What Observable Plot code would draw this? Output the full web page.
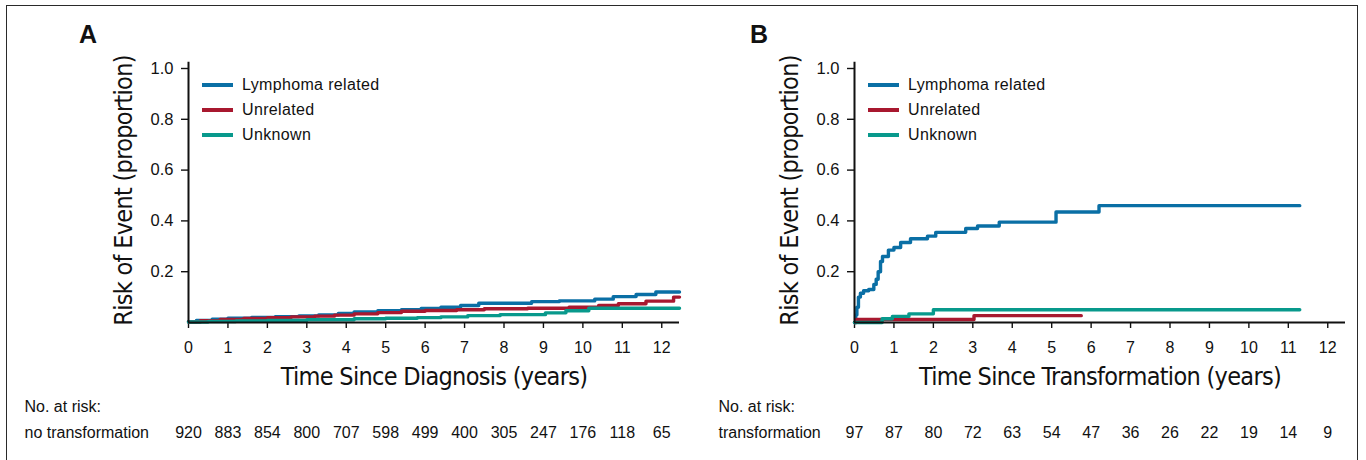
<!DOCTYPE html>
<html>
<head>
<meta charset="utf-8">
<script src="https://cdn.jsdelivr.net/npm/d3@7"></script>
<script src="https://cdn.jsdelivr.net/npm/@observablehq/plot@0.6"></script>
<style>
  html, body { margin: 0; padding: 0; background: #fff; overflow: hidden; }
  #fig { position: relative; width: 1366px; height: 460px; overflow: hidden; font-family: 'Liberation Sans', Arial, sans-serif; color: #111; }
  .box { position: absolute; left: 6px; top: 5px; width: 1352px; height: 480px; box-sizing: border-box; border: 1.6px solid #2a2a2a; }
  .panel { position: absolute; top: 0; }
  .letter { position: absolute; font-weight: bold; font-size: 25px; line-height: 25px; }
  .leg { position: absolute; height: 20px; display: flex; align-items: center; font-size: 16px; letter-spacing: 0.35px; }
  .leg span.sw { display: inline-block; width: 31px; height: 4px; margin-right: 9px; }
  .axis-title { letter-spacing: -0.7px; }
</style>
</head>
<body>
<div id="fig">
  <div class="box"></div>
  <div class="panel" id="panelA" style="left:0"></div>
  <div class="panel" id="panelB" style="left:683px"></div>
  <div class="letter" style="left:79px;top:22px">A</div>
  <div class="letter" style="left:750px;top:22px">B</div>
  <div id="legA"></div>
  <div id="legB"></div>
</div>
<script>
// Event categories and their colours
const seriesNames = ["Lymphoma related", "Unrelated", "Unknown"];
const seriesColors = ["#0a6fa5", "#a8182f", "#08998c"];

// Panel A: cumulative risk since diagnosis (step points: years, proportion)
const aLymphT = [0, 0.2, 0.6, 1.0, 1.6, 2.2, 2.8, 3.3, 3.8, 4.2, 4.8, 5.4, 5.9, 6.4, 6.9, 7.36, 8.7, 9.4, 10.3, 10.77, 11.35, 11.85, 12.45];
const aLymphV = [0.003, 0.008, 0.013, 0.017, 0.02, 0.023, 0.026, 0.03, 0.036, 0.042, 0.046, 0.05, 0.055, 0.06, 0.067, 0.076, 0.082, 0.085, 0.092, 0.102, 0.11, 0.12, 0.12];
const aUnrelT = [0, 0.3, 0.8, 1.4, 2.0, 2.6, 3.2, 3.7, 4.2, 4.8, 5.4, 6.0, 6.8, 7.5, 8.6, 9.65, 10.4, 10.9, 11.6, 12.3, 12.45];
const aUnrelV = [0.002, 0.007, 0.012, 0.016, 0.019, 0.022, 0.025, 0.029, 0.034, 0.039, 0.044, 0.047, 0.05, 0.054, 0.056, 0.06, 0.067, 0.074, 0.084, 0.1, 0.1];
const aUnknT = [0, 0.5, 1.2, 2.0, 3.0, 4.2, 5.0, 5.8, 6.4, 7.08, 7.9, 9.05, 9.57, 10.15, 12.45];
const aUnknV = [0.002, 0.004, 0.006, 0.008, 0.011, 0.015, 0.017, 0.019, 0.022, 0.027, 0.031, 0.038, 0.046, 0.056, 0.056];

// Panel B: cumulative risk since transformation
const bLymphT = [0, 0.03, 0.06, 0.1, 0.15, 0.23, 0.36, 0.49, 0.55, 0.6, 0.66, 0.71, 0.86, 1.0, 1.17, 1.42, 1.85, 2.06, 2.82, 3.12, 3.67, 5.11, 6.2, 11.29];
const bLymphV = [0, 0.03, 0.06, 0.1, 0.115, 0.125, 0.13, 0.15, 0.17, 0.2, 0.24, 0.26, 0.285, 0.295, 0.315, 0.33, 0.34, 0.355, 0.37, 0.38, 0.395, 0.435, 0.46, 0.46];
const bUnrelT = [0, 0.05, 3.03, 5.75];
const bUnrelV = [0, 0.012, 0.027, 0.027];
const bUnknT = [0, 0.7, 0.96, 1.38, 2.0, 11.29];
const bUnknV = [0, 0.015, 0.024, 0.034, 0.05, 0.05];

// Numbers at risk at each whole year
const riskYears = [0, 1, 2, 3, 4, 5, 6, 7, 8, 9, 10, 11, 12];
const riskA = [920, 883, 854, 800, 707, 598, 499, 400, 305, 247, 176, 118, 65];
const riskB = [97, 87, 80, 72, 63, 54, 47, 36, 26, 22, 19, 14, 9];

// Axis ticks
const xTicks = [0, 1, 2, 3, 4, 5, 6, 7, 8, 9, 10, 11, 12];
const yTicks = [0.2, 0.4, 0.6, 0.8, 1.0];

const yTitle = "Risk of Event (proportion)";

function rows(ts, vs, name) {
  return ts.map((t, i) => ({t, v: vs[i], series: name}));
}

const labelFont = "'Liberation Sans Narrow', 'DejaVu Sans Condensed', 'Liberation Sans', sans-serif";

function kmPanel({data, risk, xLabel, rowLabel, marginLeft, marginRight, rowDx}) {
  const svg = Plot.plot({
    width: 683,
    height: 460,
    marginLeft,
    marginRight,
    marginTop: 68,
    marginBottom: 138,
    style: {fontFamily: "'Liberation Sans', Arial, sans-serif", fontSize: "16px", color: "#111", background: "transparent", overflow: "visible"},
    x: {domain: [0, 12.45]},
    y: {domain: [0, 1]},
    color: {domain: seriesNames, range: seriesColors},
    marks: [
      Plot.axisX({ticks: xTicks, tickSize: 6, tickPadding: 13, tickFormat: d => String(d), label: null, fontSize: 16, strokeWidth: 1.4}),
      Plot.axisY({ticks: yTicks, tickSize: 7, tickPadding: 8, tickFormat: d3.format(".1f"), label: null, fontSize: 16.5, strokeWidth: 1.4}),
      Plot.line(data, {x: "t", y: "v", z: "series", stroke: "series", curve: "step-after", strokeWidth: 3.4}),
      Plot.ruleY([0], {stroke: "#111", strokeWidth: 2}),
      Plot.ruleX([0], {y1: 0, y2: 1.025, stroke: "#111", strokeWidth: 2}),
      Plot.text([xLabel], {frameAnchor: "bottom", dy: 62, fontSize: 25, fontFamily: labelFont, fill: "#111"}),
      Plot.text([yTitle], {frameAnchor: "left", textAnchor: "middle", rotate: -90, dx: -65, dy: -5, fontSize: 25, fontFamily: labelFont, fill: "#111"}),
      Plot.text(["No. at risk:"], {frameAnchor: "bottom-left", dx: rowDx, dy: 89, textAnchor: "start", fontSize: 16, fill: "#111"}),
      Plot.text([rowLabel], {frameAnchor: "bottom-left", dx: rowDx, dy: 115, textAnchor: "start", fontSize: 16, fill: "#111"}),
      Plot.text(risk, {x: (d, i) => riskYears[i], text: d => String(d), frameAnchor: "bottom", dy: 115, fontSize: 16, fill: "#111"})
    ]
  });
  // tighten the axis titles
  d3.select(svg).selectAll("text")
    .filter(function () { return this.textContent === xLabel || this.textContent === yTitle; })
    .classed("axis-title", true);
  return svg;
}

const dataA = [
  ...rows(aLymphT, aLymphV, seriesNames[0]),
  ...rows(aUnrelT, aUnrelV, seriesNames[1]),
  ...rows(aUnknT, aUnknV, seriesNames[2])
];
const dataB = [
  ...rows(bLymphT, bLymphV, seriesNames[0]),
  ...rows(bUnrelT, bUnrelV, seriesNames[1]),
  ...rows(bUnknT, bUnknV, seriesNames[2])
];

document.getElementById("panelA").append(kmPanel({
  data: dataA, risk: riskA, xLabel: "Time Since Diagnosis (years)",
  rowLabel: "no transformation", marginLeft: 188, marginRight: 4, rowDx: -164
}));
document.getElementById("panelB").append(kmPanel({
  data: dataB, risk: riskB, xLabel: "Time Since Transformation (years)",
  rowLabel: "transformation", marginLeft: 171, marginRight: 21, rowDx: -136
}));

// Legends
function legend(el, left, top) {
  seriesNames.forEach((name, i) => {
    const row = document.createElement("div");
    row.className = "leg";
    row.style.left = left + "px";
    row.style.top = (top + i * 25 - 10) + "px";
    const sw = document.createElement("span");
    sw.className = "sw";
    sw.style.background = seriesColors[i];
    row.append(sw, document.createTextNode(name));
    el.append(row);
  });
}
legend(document.getElementById("legA"), 202, 85);
legend(document.getElementById("legB"), 868, 85);
</script>
</body>
</html>
